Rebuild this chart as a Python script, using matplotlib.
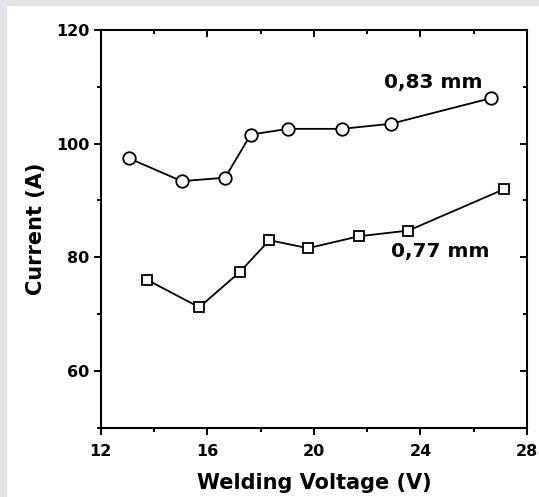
import matplotlib
matplotlib.use('Agg')
import matplotlib.pyplot as plt
from matplotlib.patches import Rectangle
from matplotlib.ticker import MultipleLocator

# Data
volt_083 = [13.07, 15.04, 16.67, 17.63, 19.04, 21.05, 22.90, 26.65]
curr_083 = [97.4, 93.4, 94.0, 101.6, 102.6, 102.6, 103.5, 108.0]
volt_077 = [13.75, 15.70, 17.22, 18.33, 19.78, 21.70, 23.55, 27.15]
curr_077 = [76.0, 71.2, 77.4, 83.0, 81.6, 83.7, 84.7, 92.0]
x_ticks = [12, 16, 20, 24, 28]
y_ticks = [60, 80, 100, 120]

plt.rcParams['font.family'] = 'DejaVu Sans'
plt.rcParams['font.weight'] = 'bold'

W, H = 539, 497
fig = plt.figure(figsize=(W / 100, H / 100), dpi=100)
fig.patch.set_facecolor('white')

# light gray frame strips on the top and left edges
gray = '#e3e3e9'
fig.patches.append(Rectangle((0, 0), 6 / W, 1, transform=fig.transFigure, color=gray, zorder=0))
fig.patches.append(Rectangle((0, 1 - 5 / H), 1, 5 / H, transform=fig.transFigure, color=gray, zorder=0))

ax = fig.add_axes([100.7 / W, 1 - 427.7 / H, (527 - 100.7) / W, (427.7 - 30) / H])

ax.plot(volt_083, curr_083, color='black', lw=1.3, marker='o', ms=9,
        mfc='white', mec='black', mew=1.3)
ax.plot(volt_077, curr_077, color='black', lw=1.3, marker='s', ms=7.5,
        mfc='white', mec='black', mew=1.3)

ax.text(24.47, 110.7, '0,83 mm', ha='center', va='center', fontsize=14.5, fontweight='bold')
ax.text(24.74, 81.1, '0,77 mm', ha='center', va='center', fontsize=14.5, fontweight='bold')

ax.set_xlim(12, 28)
ax.set_ylim(50, 120)
ax.set_xticks(x_ticks)
ax.set_yticks(y_ticks)
ax.xaxis.set_minor_locator(MultipleLocator(2))
ax.yaxis.set_minor_locator(MultipleLocator(10))

for s in ax.spines.values():
    s.set_linewidth(1.5)

ax.tick_params(which='major', direction='out', length=5, width=1.4, labelsize=11.5, pad=3)
ax.tick_params(axis='x', which='major', pad=6.5)
ax.tick_params(which='minor', direction='out', length=3, width=1.4)
ax.tick_params(which='both', top=True, right=True)

# top and right ticks point inward
for t in ax.xaxis.get_major_ticks() + ax.xaxis.get_minor_ticks():
    t.tick2line.set_marker(3)
for t in ax.yaxis.get_major_ticks() + ax.yaxis.get_minor_ticks():
    t.tick2line.set_marker(0)

ax.set_xlabel('Welding Voltage (V)', fontsize=15, fontweight='bold', labelpad=10)
ax.set_ylabel('Current (A)', fontsize=15, fontweight='bold', labelpad=7)

fig.savefig('out.png', dpi=100)
